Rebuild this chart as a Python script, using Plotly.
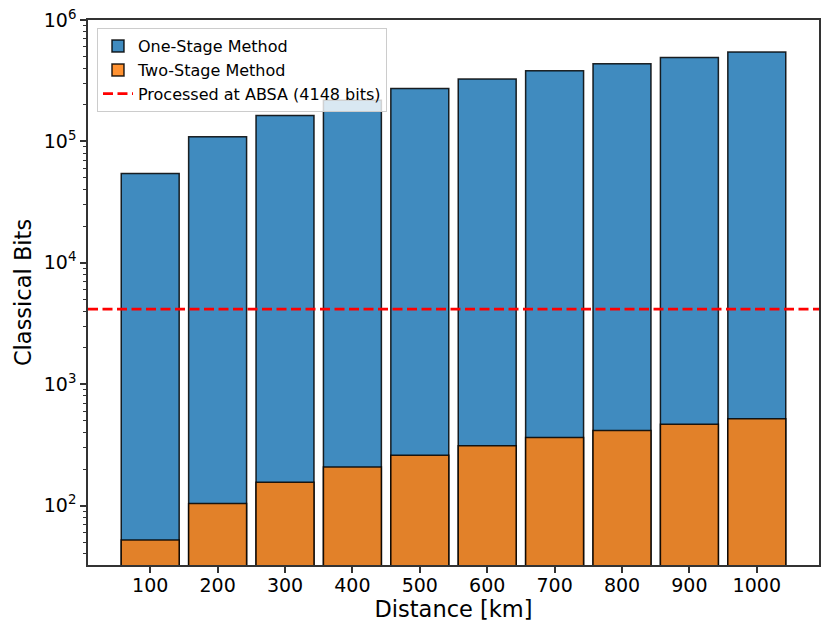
import plotly.graph_objects as go

distances = [100, 200, 300, 400, 500, 600, 700, 800, 900, 1000]
one_stage = [54500, 109000, 163500, 218000, 272500, 327000, 381500, 436000, 490500, 545000]
two_stage = [52, 104, 156, 208, 260, 312, 364, 416, 468, 520]
absa_bits = 4148
y_tick_vals = [1e2, 1e3, 1e4, 1e5, 1e6]
y_tick_text = ["10<sup>2</sup>", "10<sup>3</sup>", "10<sup>4</sup>", "10<sup>5</sup>", "10<sup>6</sup>"]

bar_width = 86
x_min = distances[0] - bar_width / 2
x_max = distances[-1] + bar_width / 2
pad = 0.05 * (x_max - x_min)
x_range = [x_min - pad, x_max + pad]

edge = dict(color="rgba(0,0,0,0.85)", width=1.5)

fig = go.Figure()
fig.add_trace(go.Bar(x=distances, y=one_stage, width=bar_width, name="One-Stage Method",
                     marker=dict(color="rgba(31,119,180,0.85)", line=edge)))
fig.add_trace(go.Bar(x=distances, y=two_stage, width=bar_width, name="Two-Stage Method",
                     marker=dict(color="rgba(255,127,14,0.85)", line=edge)))
fig.add_trace(go.Scatter(x=x_range, y=[absa_bits, absa_bits], mode="lines",
                         name="Processed at ABSA (4148 bits)",
                         line=dict(color="red", width=2.8, dash="10px,4.5px")))

axis_common = dict(showline=True, linecolor="#333333", linewidth=1.5, mirror=True,
                   ticks="outside", tickcolor="#333333", tickwidth=1.5, ticklen=6,
                   showgrid=False, zeroline=False, automargin=False,
                   ticklabeloverflow="allow",
                   tickfont=dict(size=19, color="black"))

fig.update_layout(
    width=823, height=628,
    margin=dict(l=80, r=12, t=12, b=71),
    paper_bgcolor="white", plot_bgcolor="white",
    font=dict(family="DejaVu Sans", color="black"),
    barmode="overlay",
    showlegend=True,
    legend=dict(x=0.0123, y=0.985, xanchor="left", yanchor="top",
                bgcolor="rgba(255,255,255,0.8)", bordercolor="#cccccc", borderwidth=1,
                font=dict(size=16, color="black"), tracegroupgap=0),
    xaxis=dict(range=x_range, tickvals=distances, ticklabelstandoff=-4,
               title=dict(text="Distance [km]", font=dict(size=22.5), standoff=7),
               **axis_common),
    yaxis=dict(type="log", range=[1.511, 6], tickvals=y_tick_vals, ticktext=y_tick_text,
               minor=dict(ticks="outside", ticklen=3.5, tickwidth=1.2, tickcolor="#333333",
                          dtick="D1", showgrid=False),
               title=dict(text="Classical Bits", font=dict(size=22.5), standoff=6),
               **axis_common),
)

fig.write_html("out.html")
